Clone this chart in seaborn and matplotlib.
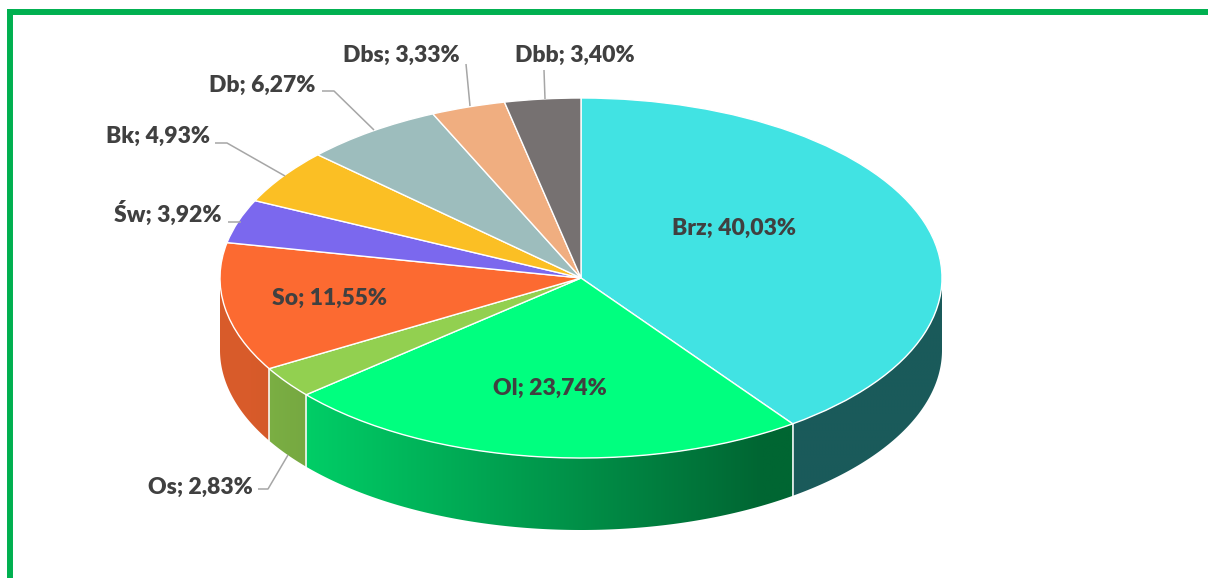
import numpy as np
import matplotlib
matplotlib.use("Agg")
import matplotlib.pyplot as plt
import matplotlib.colors as mcolors
from matplotlib.lines import Line2D
from matplotlib.patches import Polygon
import seaborn as sns

# ---------------- data ----------------
names = ["Brz", "Ol", "Os", "So", "Św", "Bk", "Db", "Dbs", "Dbb"]
shares = [40.03, 23.74, 2.83, 11.55, 3.92, 4.93, 6.27, 3.33, 3.40]
colors = ["#41E3E3", "#00FF7F", "#92D050", "#FC6A31", "#7B68EE",
          "#FBBF24", "#9DBDBD", "#F0AE80", "#767171"]

# ---------------- layout (pixels of the 1208x578 image) ----------------
W, H = 1208, 578
CX, CY, RX, RY, DEPTH = 581, 278, 361, 180, 72
inside_pos = {"Brz": (734, 228), "Ol": (550, 388), "So": (330, 298)}
outside_txt = {  # anchor of text, center y
    "Os": (253, 487), "Św": (222, 213), "Bk": (210, 136),
    "Db": (315, 85), "Dbs": (401, 55), "Dbb": (575, 55)}
outside_ha = {"Os": "right", "Św": "right", "Bk": "right", "Db": "right",
              "Dbs": "center", "Dbb": "center"}
leaders = {
    "Os": [(258, 489), (268, 489), (288, 455)],
    "Św": [(228, 222), (241, 222)],
    "Bk": [(215, 143), (227, 143), (285, 176)],
    "Db": [(322, 91), (334, 91), (374, 130)],
    "Dbs": [(466, 64), (470, 106)],
    "Dbb": [(544, 70), (545, 99)],
}


def P(x, y):
    return (x - CX) / RX, (CY - y) / RY


sns.set_theme(style="white")
plt.rcParams["font.family"] = ["Lato", "DejaVu Sans"]

fig = plt.figure(figsize=(W / 100, H / 100), dpi=100)
ax = fig.add_axes([0, 0, 1, 1])

d = DEPTH / RY
fr = np.array(shares) / np.sum(shares)
cum = np.concatenate([[0], np.cumsum(fr)])


def shade_x(c):
    return np.clip(0.82 - 0.323 * (c + 0.8), 0.40, 0.86)


# side walls (front half only) with horizontal gradient clipped to shape
for i, (nm, col) in enumerate(zip(names, colors)):
    a = 90 - 360 * cum[i + 1]
    b = 90 - 360 * cum[i]
    for off in (0, -360, 360):
        lo, hi = max(a + off, -180), min(b + off, 0)
        if hi <= lo:
            continue
        base = np.array(mcolors.to_rgb(col))
        ts = np.radians(np.linspace(lo, hi, 200))
        xs, ys = np.cos(ts), np.sin(ts)
        poly = np.column_stack([np.concatenate([xs, xs[::-1]]),
                                np.concatenate([ys, ys[::-1] - d])])
        patch = Polygon(poly, closed=True, fc="none", ec="none", zorder=1)
        ax.add_patch(patch)
        x0, x1 = xs.min(), xs.max()
        gx = np.linspace(x0, x1, 400)
        img = np.clip(base[None, None, :] * shade_x(gx)[None, :, None], 0, 1)
        im = ax.imshow(img, extent=[x0, x1, ys.min() - d, ys.max()],
                       aspect="auto", origin="lower", zorder=1,
                       interpolation="bilinear")
        im.set_clip_path(patch)

# white seams between front walls
for k in range(len(names) + 1):
    t = 90 - 360 * cum[k]
    t = (t + 180) % 360 - 180
    if -180 < t < 0:
        x, y = np.cos(np.radians(t)), np.sin(np.radians(t))
        ax.plot([x, x], [y, y - d], color="white", lw=1.1, zorder=2)

# top face
ax.pie(shares, colors=colors, startangle=90, counterclock=False,
       radius=1, center=(0, 0), frame=False,
       wedgeprops=dict(edgecolor="white", linewidth=1.0, zorder=3))

ax.set_aspect("auto")
ax.set_xlim(P(0, 0)[0], P(W, 0)[0])
ax.set_ylim(P(0, H)[1], P(0, 0)[1])
ax.axis("off")

TXT = "#404040"
FS = 16.5
FW = "heavy"


def lab(nm, v):
    return f"{nm}; {v:.2f}%".replace(".", ",")


for nm, v in zip(names, shares):
    if nm in inside_pos:
        x, y = P(*inside_pos[nm])
        ax.text(x, y, lab(nm, v), ha="center", va="center", fontsize=FS,
                fontweight=FW, color=TXT, zorder=5)
    else:
        x, y = P(*outside_txt[nm])
        ax.text(x, y, lab(nm, v), ha=outside_ha[nm], va="center",
                fontsize=FS, fontweight=FW, color=TXT, zorder=5)
        pts = [P(*p) for p in leaders[nm]]
        ax.plot([p[0] for p in pts], [p[1] for p in pts], color="#A6A6A6",
                lw=1.1, zorder=4, solid_capstyle="butt")

# green frame (top and left)
G = "#00B050"
fig.add_artist(Line2D([7 / W, 1], [1 - 12 / H, 1 - 12 / H],
                      transform=fig.transFigure, color=G, lw=4.3,
                      solid_capstyle="butt"))
fig.add_artist(Line2D([10 / W, 10 / W], [1 - 9 / H, 0],
                      transform=fig.transFigure, color=G, lw=4.3,
                      solid_capstyle="butt"))

fig.savefig("out.png", dpi=100, facecolor="white")
